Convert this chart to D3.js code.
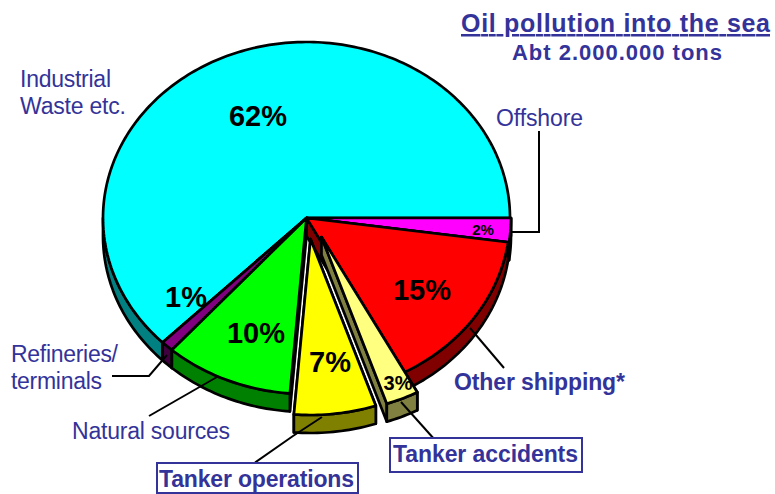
<!DOCTYPE html>
<html><head><meta charset="utf-8">
<script src="https://cdn.jsdelivr.net/npm/d3@7/dist/d3.min.js"></script>
<style>html,body{margin:0;padding:0;background:#fff}svg{display:block}text{font-family:"Liberation Sans",Arial,sans-serif}</style>
</head><body><svg id="c" width="775" height="494"></svg>
<script>
const categories = ["Offshore","Other shipping*","Tanker accidents","Tanker operations","Natural sources","Refineries/terminals","Industrial Waste etc."];
const shares = [2.2, 15, 2.6, 6.5, 10.2, 1, 62.5];
const percentLabels = ["2%","15%","3%","7%","10%","1%","62%"];

// Styles and layout
const topColors  = ["#ff00ff","#ff0000","#ffff80","#ffff00","#00ff00","#800080","#00ffff"];
const sideColors = ["#800080","#800000","#808040","#808000","#008000","#400040","#008080"];
const explodeX = [1,0,15,4,0,0,0];
const explodeY = [0,0,19,21,0,0,0];
const drawOrder = [6,0,1,5,4,3,2];
const labelX = [483,422,398,330,256,186,258];
const labelY = [230,290,383,362,333,297,116];
const labelSize = [15,29,20,29,29,29,29];
const cx=306.5, cy=218, rx=203.5, ry=176, depth=18;
const navy="#333399";

const svg=d3.select("#c");
const rows=categories.map((c,i)=>({name:c,value:shares[i],i}));
const arcs=d3.pie().sort(null).value(d=>d.value).startAngle(Math.PI/2).endAngle(Math.PI*2.5)(rows);
const sx=d3.scaleLinear().domain([-1,1]).range([cx-rx,cx+rx]);
const sy=d3.scaleLinear().domain([-1,1]).range([cy-ry,cy+ry]);
const pt=(a,i,dz=0)=>[sx(Math.sin(a))+explodeX[i],sy(-Math.cos(a))+explodeY[i]+dz];
const apex=(i,dz=0)=>[sx(0)+explodeX[i],sy(0)+explodeY[i]+dz];
const line=d3.line();
const rim=(a0,a1,i,dz=0)=>{const n=Math.max(2,Math.ceil((a1-a0)/0.02));return d3.range(n+1).map(k=>pt(a0+(a1-a0)*k/n,i,dz));};
const style=(s,fill)=>s.attr("fill",fill).attr("stroke","#000").attr("stroke-width",2.7).attr("stroke-linejoin","round");

const pieG=svg.append("g");
drawOrder.forEach(i=>{
  const d=arcs[i], a0=d.startAngle, a1=d.endAngle;
  // radial walls that face the viewer
  [a0,a1].forEach(a=>{
    const poly=[apex(i),pt(a,i),pt(a,i,depth),apex(i,depth)];
    style(pieG.append("path").attr("d",line(poly)+"Z"),sideColors[i]);
  });
  // outer rim on the front half
  const f0=Math.max(a0,Math.PI/2), f1=Math.min(a1,Math.PI*1.5);
  if(f1>f0){
    const poly=rim(f0,f1,i).concat(rim(f0,f1,i,depth).reverse());
    style(pieG.append("path").attr("d",line(poly)+"Z"),sideColors[i]);
  }
  // top face
  style(pieG.append("path").attr("d",line([apex(i)].concat(rim(a0,a1,i)))+"Z"),topColors[i]);
});

// Leader lines
const leaders=[
 [[510,232],[539,232],[539,131]],
 [[470,328],[504,368]],
 [[401,402],[435,440]],
 [[322,417],[293,436],[253,464]],
 [[217,377],[149,416]],
 [[112,376],[149,376],[167,355]]
];
svg.selectAll("path.leader").data(leaders).join("path").attr("class","leader")
  .attr("d",d=>line(d)).attr("fill","none").attr("stroke","#000").attr("stroke-width",2);

// Percent labels
svg.selectAll("text.pct").data(percentLabels).join("text").attr("class","pct")
  .attr("x",(d,i)=>labelX[i]).attr("y",(d,i)=>labelY[i]).attr("dy","0.36em")
  .attr("text-anchor","middle").attr("font-weight","bold")
  .attr("font-size",(d,i)=>labelSize[i]).attr("fill","#000").text(d=>d);

// Boxes
const boxes=[[157,463,201,30],[390,438,192,34]];
svg.selectAll("rect.box").data(boxes).join("rect").attr("class","box")
  .attr("x",d=>d[0]).attr("y",d=>d[1]).attr("width",d=>d[2]).attr("height",d=>d[3])
  .attr("fill","#fff").attr("stroke",navy).attr("stroke-width",2);

// Text labels: text,x,y,size,bold,width
const texts=[
 ["Oil pollution into the sea",461,32,25,true,309],
 ["Abt 2.000.000 tons",512,60,22,true,210],
 ["Industrial",20,87,23,false,91],
 ["Waste etc.",20,114,23,false,106],
 ["Offshore",496,126,23,false,87],
 ["Other shipping*",454,390,23,true,171],
 ["Tanker accidents",393,462,23,true,185],
 ["Tanker operations",159,487,23,true,195],
 ["Natural sources",72,439,23,false,158],
 ["Refineries/",11,362,23,false,107],
 ["terminals",11,389,23,false,91]
];
svg.selectAll("text.lab").data(texts).join("text").attr("class","lab")
  .attr("x",d=>d[1]).attr("y",d=>d[2]).attr("font-size",d=>d[3])
  .attr("font-weight",d=>d[4]?"bold":"normal").attr("fill",navy)
  .attr("textLength",d=>d[5]).attr("lengthAdjust","spacing")
  .attr("text-decoration",(d,i)=>i===0?"underline":null).text(d=>d[0]);
</script></body></html>
